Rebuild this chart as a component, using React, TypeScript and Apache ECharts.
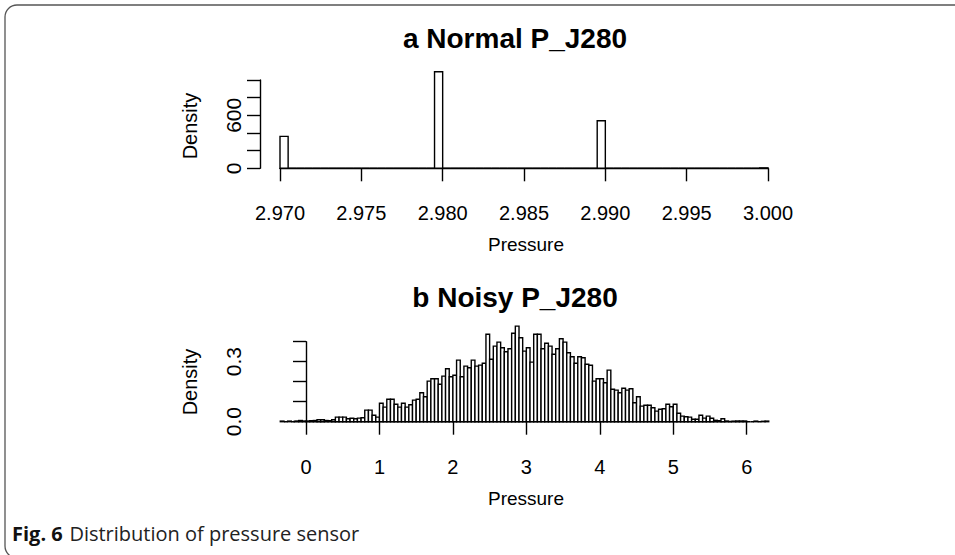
import React, { useEffect, useRef } from "react";
import * as echarts from "echarts";

// ---- Data ----
// (a) Normal P_J280: histogram bins of width 0.0005 starting at 2.970
const topBinStart = 2.97;
const topBinWidth = 0.0005;
const topDensity: number[] = [
  362, 0, 0, 0, 0, 0, 0, 0, 0, 0,
  0, 0, 0, 0, 0, 0, 0, 0, 0, 1094,
  0, 0, 0, 0, 0, 0, 0, 0, 0, 0,
  0, 0, 0, 0, 0, 0, 0, 0, 0, 539,
  0, 0, 0, 0, 0, 0, 0, 0, 0, 0,
  0, 0, 0, 0, 0, 0, 0, 0, 0, 5,
];
const topXTicks = [2.97, 2.975, 2.98, 2.985, 2.99, 2.995, 3.0];
const topYLabels = ["0", "600"];

// (b) Noisy P_J280: histogram bins of width 0.05 starting at -0.35
const botBinStart = -0.35;
const botBinWidth = 0.05;
const botDensity: number[] = [
  0.003, 0.0, 0.003, 0.0, 0.003, 0.006, 0.003, 0.003, 0.005, 0.006,
  0.01, 0.01, 0.006, 0.005, 0.01, 0.023, 0.023, 0.023, 0.015, 0.017,
  0.015, 0.018, 0.02, 0.058, 0.058, 0.032, 0.023, 0.092, 0.073, 0.112,
  0.112, 0.087, 0.073, 0.092, 0.073, 0.085, 0.108, 0.112, 0.145, 0.125,
  0.203, 0.215, 0.215, 0.187, 0.228, 0.265, 0.225, 0.232, 0.308, 0.225,
  0.278, 0.27, 0.308, 0.278, 0.283, 0.292, 0.437, 0.312, 0.378, 0.398,
  0.37, 0.35, 0.365, 0.442, 0.478, 0.42, 0.353, 0.37, 0.298, 0.437,
  0.437, 0.365, 0.392, 0.378, 0.337, 0.365, 0.415, 0.398, 0.345, 0.325,
  0.292, 0.325, 0.32, 0.287, 0.282, 0.203, 0.215, 0.215, 0.195, 0.258,
  0.162, 0.158, 0.145, 0.167, 0.158, 0.165, 0.095, 0.125, 0.078, 0.082,
  0.082, 0.07, 0.053, 0.062, 0.065, 0.087, 0.075, 0.087, 0.042, 0.028,
  0.025, 0.023, 0.012, 0.012, 0.032, 0.018, 0.028, 0.017, 0.007, 0.005,
  0.015, 0.003, 0.0, 0.002, 0.003, 0.003, 0.003, 0.0, 0.0, 0.003,
  0.0, 0.002, 0.003,
];
const botYLabels = ["0.0", "0.3"];

const titleA = "a Normal P_J280";
const titleB = "b Noisy P_J280";
const xName = "Pressure";
const yName = "Density";
const captionBold = "Fig. 6";
const captionText = "Distribution of pressure sensor";

const FONT = "'Liberation Sans', Arial, Helvetica, sans-serif";
const CAPFONT = "'Open Sans', 'Noto Sans', sans-serif";

function toBins(start: number, width: number, dens: number[]) {
  return dens.map((d, i) => [start + i * width, start + (i + 1) * width, d]);
}

export default function App() {
  const ref = useRef<HTMLDivElement>(null);
  useEffect(() => {
    if (!ref.current) return;
    const chart = echarts.init(ref.current, null, { renderer: "svg" });

    const renderBar = (params: any, api: any) => {
      const x0 = api.value(0);
      const x1 = api.value(1);
      const y = api.value(2);
      const p0 = api.coord([x0, y]);
      const p1 = api.coord([x1, 0]);
      return {
        type: "rect",
        shape: { x: p0[0], y: p0[1], width: p1[0] - p0[0], height: p1[1] - p0[1] },
        style: { fill: "#ffffff", stroke: "#000000", lineWidth: 1.4 },
      };
    };

    const axisCommon = {
      axisLine: { show: true, lineStyle: { color: "#000", width: 1.4 } },
      axisTick: { show: true, length: 13, lineStyle: { color: "#000", width: 1.4 } },
      splitLine: { show: false },
    };
    const labelBase = { color: "#000", fontSize: 20, fontFamily: FONT };

    const option: any = {
      animation: false,
      backgroundColor: "#ffffff",
      grid: [
        { left: 280, top: 80, width: 488, height: 88.3 },
        { left: 306, top: 341.7, width: 440.7, height: 80 },
      ],
      xAxis: [
        {
          type: "value",
          gridIndex: 0,
          min: topXTicks[0],
          max: topXTicks[topXTicks.length - 1],
          interval: 0.005,
          offset: 4.4,
          ...axisCommon,
          axisLabel: { ...labelBase, margin: 30, formatter: (v: number) => v.toFixed(3) },
        },
        {
          type: "value",
          gridIndex: 1,
          min: 0,
          max: 6,
          interval: 1,
          offset: 5.6,
          ...axisCommon,
          axisLabel: { ...labelBase, margin: 30, formatter: (v: number) => String(Math.round(v)) },
        },
      ],
      yAxis: [
        {
          type: "value",
          gridIndex: 0,
          min: 0,
          max: 1000,
          interval: 200,
          offset: 20,
          ...axisCommon,
          axisLabel: {
            ...labelBase,
            fontSize: 21,
            rotate: 90,
            margin: 16,
            formatter: (v: number) => (topYLabels.includes(String(v)) ? String(v) : ""),
          },
        },
        {
          type: "value",
          gridIndex: 1,
          min: 0,
          max: 0.4,
          interval: 0.1,
          offset: 46,
          ...axisCommon,
          axisLabel: {
            ...labelBase,
            fontSize: 21,
            rotate: 90,
            margin: 16,
            formatter: (v: number) => {
              const s = v.toFixed(1);
              return botYLabels.includes(s) ? s : "";
            },
          },
        },
      ],
      series: [
        {
          type: "custom",
          xAxisIndex: 0,
          yAxisIndex: 0,
          clip: false,
          renderItem: renderBar,
          encode: { x: [0, 1], y: 2 },
          data: toBins(topBinStart, topBinWidth, topDensity),
        },
        {
          type: "custom",
          xAxisIndex: 1,
          yAxisIndex: 1,
          clip: false,
          renderItem: renderBar,
          encode: { x: [0, 1], y: 2 },
          data: toBins(botBinStart, botBinWidth, botDensity),
        },
      ],
      graphic: [
        {
          type: "rect",
          shape: { x: 5, y: 5, width: 1200, height: 553, r: 12 },
          style: { fill: "none", stroke: "#555", lineWidth: 1.3 },
        },
        {
          type: "text",
          x: 515,
          y: 38,
          style: { text: titleA, font: `bold 28px ${FONT}`, fill: "#000", align: "center", verticalAlign: "middle" },
        },
        {
          type: "text",
          x: 515,
          y: 297,
          style: { text: titleB, font: `bold 28px ${FONT}`, fill: "#000", align: "center", verticalAlign: "middle" },
        },
        {
          type: "text",
          x: 526,
          y: 244,
          style: { text: xName, font: `19px ${FONT}`, fill: "#000", align: "center", verticalAlign: "middle" },
        },
        {
          type: "text",
          x: 526,
          y: 498,
          style: { text: xName, font: `19px ${FONT}`, fill: "#000", align: "center", verticalAlign: "middle" },
        },
        {
          type: "text",
          x: 190,
          y: 126,
          rotation: Math.PI / 2,
          style: { text: yName, font: `20px ${FONT}`, fill: "#000", align: "center", verticalAlign: "middle" },
        },
        {
          type: "text",
          x: 190,
          y: 382,
          rotation: Math.PI / 2,
          style: { text: yName, font: `20px ${FONT}`, fill: "#000", align: "center", verticalAlign: "middle" },
        },
        {
          type: "text",
          x: 12,
          y: 533,
          style: {
            text: `{b|${captionBold}}  {n|${captionText}}`,
            verticalAlign: "middle",
            rich: {
              b: { fontFamily: CAPFONT, fontWeight: "bold", fontSize: 20, fill: "#111" },
              n: { fontFamily: CAPFONT, fontSize: 20, fill: "#222" },
            },
          },
        },
      ],
    };

    chart.setOption(option);
    return () => chart.dispose();
  }, []);

  return (
    <div
      ref={ref}
      style={{ position: "fixed", left: 0, top: 0, width: 955, height: 555, background: "#fff" }}
    />
  );
}
